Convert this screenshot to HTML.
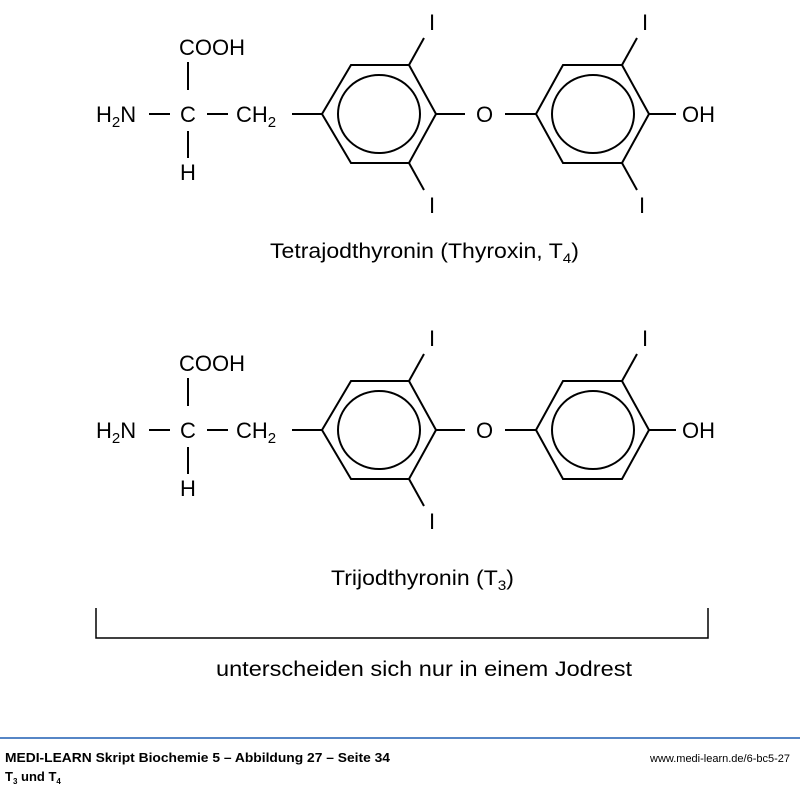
<!DOCTYPE html>
<html><head><meta charset="utf-8"><style>
html,body{margin:0;padding:0;background:#fff;}
svg{display:block;}
text{font-family:"Liberation Sans",Arial,sans-serif;fill:#000;}
</style></head><body>
<svg width="800" height="794" viewBox="0 0 800 794" xmlns="http://www.w3.org/2000/svg">
<defs>
<g id="mol" stroke="#000" stroke-width="2" fill="none">
  <polygon points="322,114 351,65 409,65 436,114 409,163 351,163"/>
  <ellipse cx="379" cy="114" rx="41" ry="39"/>
  <polygon points="536,114 563,65 622,65 649,114 622,163 563,163"/>
  <ellipse cx="593" cy="114" rx="41" ry="39"/>
  <line x1="409" y1="65" x2="424" y2="38"/>
  <line x1="409" y1="163" x2="424" y2="190"/>
  <line x1="622" y1="65" x2="637" y2="38"/>
  <line x1="436" y1="114" x2="465" y2="114"/>
  <line x1="505" y1="114" x2="536" y2="114"/>
  <line x1="649" y1="114" x2="676" y2="114"/>
  <line x1="149" y1="114" x2="170" y2="114"/>
  <line x1="207" y1="114" x2="228" y2="114"/>
  <line x1="292" y1="114" x2="322" y2="114"/>
  <line x1="188" y1="62" x2="188" y2="90"/>
  <line x1="188" y1="131" x2="188" y2="158"/>
</g>
<g id="txt" font-size="22">
  <text x="96" y="122">H<tspan font-size="15" dy="5">2</tspan><tspan dy="-5">N</tspan></text>
  <text x="180" y="122">C</text>
  <text x="236" y="122">CH<tspan font-size="15" dy="5">2</tspan></text>
  <text x="179" y="55">COOH</text>
  <text x="180" y="180">H</text>
  <text x="476" y="122">O</text>
  <text x="682" y="122">OH</text>
  <text x="429" y="30">I</text>
  <text x="642" y="30">I</text>
  <text x="429" y="213">I</text>
</g>
</defs>
<use href="#mol"/><use href="#txt"/>
<line x1="622" y1="163" x2="637" y2="190" stroke="#000" stroke-width="2"/>
<text x="639" y="213" font-size="22">I</text>
<g transform="translate(0,316)"><use href="#mol"/><use href="#txt"/></g>

<text x="270" y="258" font-size="21" textLength="309" lengthAdjust="spacingAndGlyphs">Tetrajodthyronin (Thyroxin, T<tspan font-size="14" dy="5">4</tspan><tspan dy="-5">)</tspan></text>
<text x="331" y="585" font-size="21" textLength="183" lengthAdjust="spacingAndGlyphs">Trijodthyronin (T<tspan font-size="14" dy="5">3</tspan><tspan dy="-5">)</tspan></text>
<path d="M96,608 V638 H708 V608" stroke="#000" stroke-width="1.5" fill="none"/>
<text x="216" y="676" font-size="21" textLength="416" lengthAdjust="spacingAndGlyphs">unterscheiden sich nur in einem Jodrest</text>

<line x1="0" y1="738" x2="800" y2="738" stroke="#1f5fb4" stroke-width="1.5"/>
<text x="5" y="762" font-size="13" font-weight="bold" textLength="385" lengthAdjust="spacingAndGlyphs">MEDI-LEARN Skript Biochemie 5 – Abbildung 27 – Seite 34</text>
<text x="650" y="762" font-size="11" textLength="140" lengthAdjust="spacingAndGlyphs">www.medi-learn.de/6-bc5-27</text>
<text x="5" y="781" font-size="13" font-weight="bold">T<tspan font-size="8" dy="3">3</tspan><tspan dy="-3"> und T</tspan><tspan font-size="8" dy="3">4</tspan></text>
</svg>
</body></html>
